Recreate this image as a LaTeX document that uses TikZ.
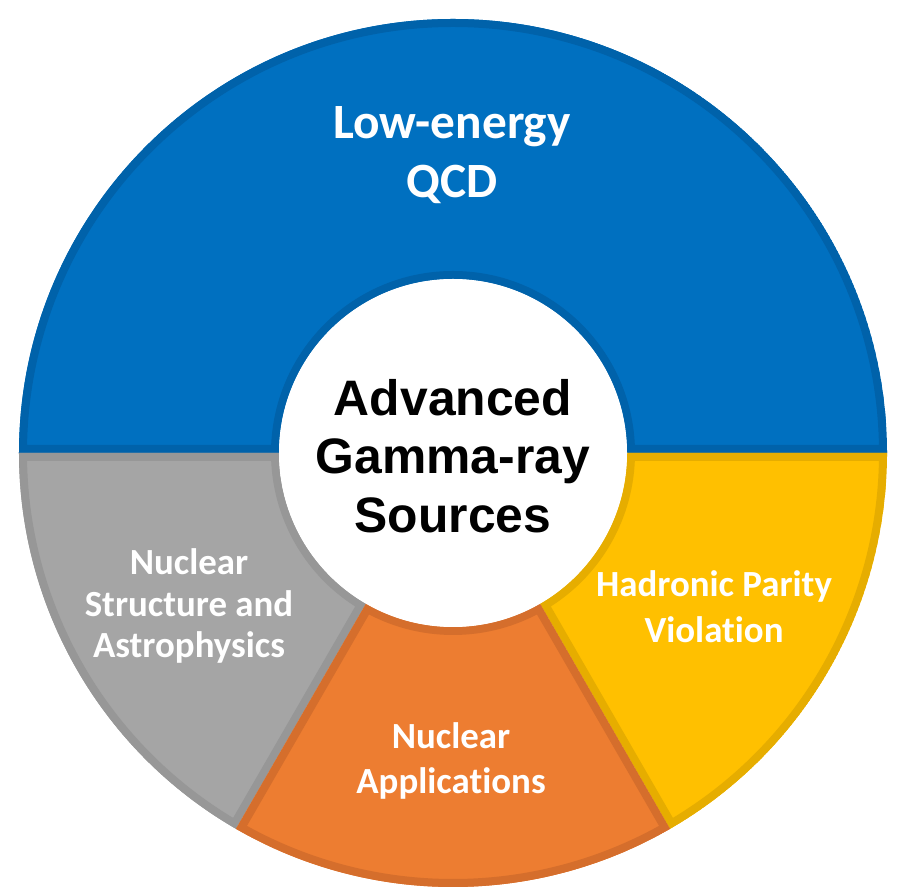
\documentclass[tikz,border=0pt]{standalone}
\usepackage{fontspec}
\setmainfont{Carlito}[Ligatures=NoCommon]
\newfontfamily\hubfont{Liberation Sans}
\definecolor{blueF}{HTML}{0070C0}
\definecolor{blueD}{HTML}{0062AA}
\definecolor{grayF}{HTML}{A5A5A5}
\definecolor{grayD}{HTML}{979797}
\definecolor{orangeF}{HTML}{ED7D31}
\definecolor{orangeD}{HTML}{D56E2C}
\definecolor{yellowF}{HTML}{FFC000}
\definecolor{yellowD}{HTML}{E6AD00}
\newcommand\ringseg[4]{%
  \begin{scope}
    \clip (#1:434bp) arc[start angle=#1, end angle=#2, radius=434bp]
      -- (#2:174bp) arc[start angle=#2, end angle=#1, radius=174bp] -- cycle;
    \fill[fill=#3, draw=#4, line width=16bp]
      (#1:434bp) arc[start angle=#1, end angle=#2, radius=434bp]
      -- (#2:174bp) arc[start angle=#2, end angle=#1, radius=174bp] -- cycle;
  \end{scope}}
\tikzset{
  x=1bp, y=1bp,
  seglabel/.style={text=white, inner sep=0pt, align=center,
    font=\bfseries\fontsize{37}{44}\selectfont},
  hublabel/.style={text=black, inner sep=0pt, align=center,
    font=\hubfont\bfseries\fontsize{50}{59}\selectfont}
}
\begin{document}
\begin{tikzpicture}
\useasboundingbox (0,0) rectangle (903,889);
\begin{scope}[shift={(453,436)}]
  \ringseg{180}{0}{blueF}{blueD}
  \ringseg{180}{240}{grayF}{grayD}
  \ringseg{300}{360}{yellowF}{yellowD}
  \ringseg{240}{300}{orangeF}{orangeD}
  \fill[white] (0,0) circle[radius=174bp];
\end{scope}
\node[seglabel, font=\bfseries\fontsize{49.5}{59}\selectfont] (qcd) at (452,734) {Low-energy\\QCD};
\node[seglabel, font=\bfseries\fontsize{37}{42}\selectfont] (nsa) at (189,283) {Nuclear\\Structure and\\Astrophysics};
\node[seglabel, font=\bfseries\fontsize{37}{46}\selectfont] (hpv) at (714,282) {Hadronic Parity\\Violation};
\node[seglabel, font=\bfseries\fontsize{37}{45}\selectfont] (na) at (451,128) {Nuclear\\Applications};
\node[hublabel] (hub) at (453,433) {Advanced\\Gamma-ray\\Sources};
\end{tikzpicture}
\end{document}
